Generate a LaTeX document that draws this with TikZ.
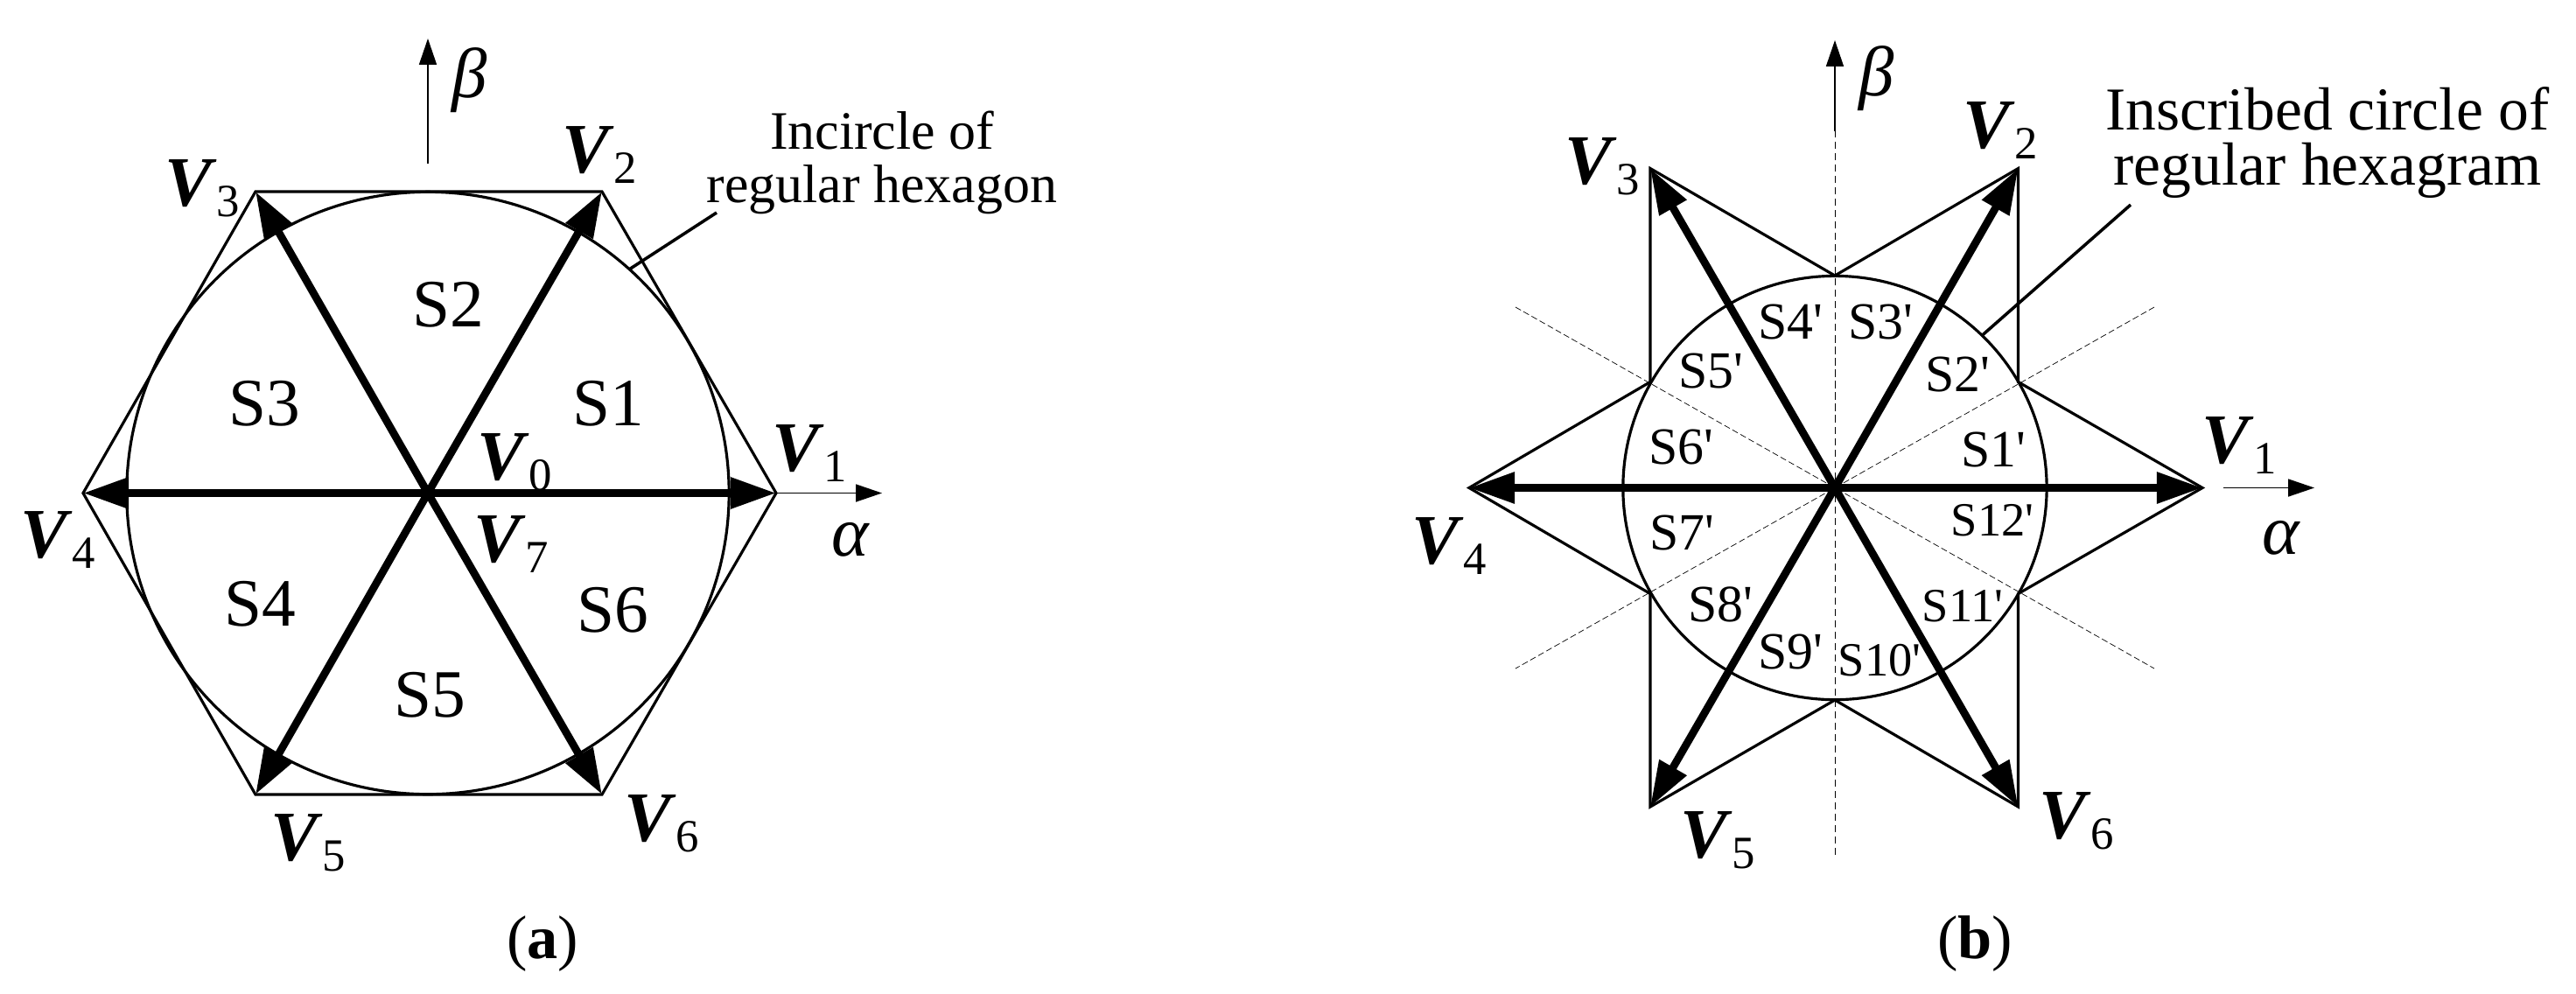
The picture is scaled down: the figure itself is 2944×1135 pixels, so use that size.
\documentclass[tikz,border=0pt]{standalone}
\usepackage{fontspec}
\setmainfont{Liberation Serif}
\usepackage{tikz}
\usetikzlibrary{arrows.meta, positioning}

\newcommand{\vecname}[1]{\textbf{\textit{V}}\raisebox{-3.3pt}{\fontsize{15}{15}\selectfont #1}}
\newcommand{\prm}{\textquotesingle}

\begin{document}
\begin{tikzpicture}[
    x=0.01cm,
    y=-0.01cm,
    vector/.style={inner sep=0pt, font=\fontsize{23}{23}\selectfont},
    axisname/.style={inner sep=0pt, font=\fontsize{23}{23}\selectfont\itshape},
    sector/.style={inner sep=0pt, font=\fontsize{22}{22}\selectfont},
    sectorb/.style={inner sep=0pt, font=\fontsize{17}{17}\selectfont},
    sectorc/.style={inner sep=0pt, font=\fontsize{15.5}{15.5}\selectfont},
    note/.style={inner sep=0pt, align=center, font=\fontsize{17.6}{17.4}\selectfont},
    noteb/.style={inner sep=0pt, align=center, font=\fontsize{19.8}{18}\selectfont},
    caption/.style={inner sep=0pt, font=\fontsize{20}{20}\selectfont},
    ring/.style={circle, draw, inner sep=0pt, outer sep=0pt, line width=0.9pt},
    outline/.style={line width=0.9pt, line join=miter},
    leader/.style={line width=1pt},
    arrow/.style={-{Triangle[length=14.8pt, width=9.7pt]}, line width=2.5pt},
    axis/.style={-{Triangle[length=8.5pt, width=5.7pt]}, line width=0.4pt},
    guide/.style={line width=0.22pt, dash pattern=on 2.3pt off 1.4pt},
    guidethin/.style={line width=0.2pt, dash pattern=on 2pt off 1pt}
]
\useasboundingbox (0,0) rectangle (2944,1135);

% Hexagon corners (a)
\coordinate (a0) at (489,563.5);
\coordinate (a1) at (887,563.5);
\coordinate (a2) at (688,219);
\coordinate (a3) at (292,219);
\coordinate (a4) at (95,563.5);
\coordinate (a5) at (292,908);
\coordinate (a6) at (688,908);
\coordinate (abeta) at (489,187);
\coordinate (abetatip) at (489,44);
\coordinate (aalphatip) at (1008,563.5);
\coordinate (anote) at (819,243);

% Incircle and hexagon
\node [ring, minimum size=6.88cm] (ringa) at (a0) {};
\draw [outline] (a1) -- (a2) -- (a3) -- (a4) -- (a5) -- (a6) -- cycle;

% Axes
\draw [axis] (abeta) -- (abetatip);
\draw [axis] (a1) -- (aalphatip);

% Voltage vectors
\draw [arrow] (a0) -- (a1);
\draw [arrow] (a0) -- (a2);
\draw [arrow] (a0) -- (a3);
\draw [arrow] (a0) -- (a4);
\draw [arrow] (a0) -- (a5);
\draw [arrow] (a0) -- (a6);
\draw [leader] (anote) -- (ringa.48);

% Vector labels
\node [vector] (va1) at (925,518) {\vecname{1}};
\node [vector] (va2) at (685,177) {\vecname{2}};
\node [vector] (va3) at (231,215) {\vecname{3}};
\node [vector] (va4) at (66,617) {\vecname{4}};
\node [vector] (va5) at (352,963) {\vecname{5}};
\node [vector] (va6) at (756,941) {\vecname{6}};
\node [vector] (va0) at (588,528) {\vecname{0}};
\node [vector] (va7) at (584,622) {\vecname{7}};
\node [axisname] (alphaa) at (972,617) {α};
\node [axisname] (betaa) at (537,92) {β};

% Sector labels
\node [sector] (s1) at (695,461) {S1};
\node [sector] (s2) at (512,348) {S2};
\node [sector] (s3) at (302,461) {S3};
\node [sector] (s4) at (297,690) {S4};
\node [sector] (s5) at (491,794) {S5};
\node [sector] (s6) at (700,697) {S6};

\node [note] (notea) at (1008,186) {Incircle of\\regular hexagon};
\node [caption] (capa) at (620,1079) {(\textbf{a})};

% Hexagram corners (b)
\coordinate (b0) at (2097,557.5);
\coordinate (b1) at (2517,557.5);
\coordinate (b2) at (2306.5,192.5);
\coordinate (b3) at (1886,192.5);
\coordinate (b4) at (1679,557.5);
\coordinate (b5) at (1886,922);
\coordinate (b6) at (2306.5,922);
\coordinate (c1) at (2306.5,436.5);
\coordinate (c2) at (2097,315);
\coordinate (c3) at (1886,436.5);
\coordinate (c4) at (1886,678.5);
\coordinate (c5) at (2097,800);
\coordinate (c6) at (2306.5,678.5);
\coordinate (bbottom) at (2097,977);
\coordinate (bbeta) at (2097,150);
\coordinate (bbetatip) at (2097,46);
\coordinate (balpha) at (2541,557.5);
\coordinate (balphatip) at (2645,557.5);
\coordinate (d1) at (2462,351);
\coordinate (d2) at (1732,764);
\coordinate (d3) at (1732,351);
\coordinate (d4) at (2462,764);
\coordinate (bnote) at (2435,234);

% Dashed guides
\draw [guidethin] (d1) -- (d2);
\draw [guidethin] (d3) -- (d4);
\draw [guide] (bbottom) -- (bbeta);
\draw [axis] (bbeta) -- (bbetatip);
\draw [axis] (balpha) -- (balphatip);

% Inscribed circle and hexagram
\node [ring, minimum size=4.84cm] (ringb) at (b0) {};
\draw [outline] (b1) -- (c1) -- (b2) -- (c2) -- (b3) -- (c3) -- (b4) -- (c4) -- (b5) -- (c5) -- (b6) -- (c6) -- cycle;

% Voltage vectors
\draw [arrow] (b0) -- (b1);
\draw [arrow] (b0) -- (b2);
\draw [arrow] (b0) -- (b3);
\draw [arrow] (b0) -- (b4);
\draw [arrow] (b0) -- (b5);
\draw [arrow] (b0) -- (b6);
\draw [leader] (bnote) -- (ringb.46);

% Vector labels
\node [vector] (vb1) at (2559,509) {\vecname{1}};
\node [vector] (vb2) at (2286,149) {\vecname{2}};
\node [vector] (vb3) at (1831,190) {\vecname{3}};
\node [vector] (vb4) at (1656,624) {\vecname{4}};
\node [vector] (vb5) at (1963,960) {\vecname{5}};
\node [vector] (vb6) at (2373,938) {\vecname{6}};
\node [axisname] (alphab) at (2607,615) {α};
\node [axisname] (betab) at (2145,90) {β};

% Sector labels
\node [sectorb] (t1) at (2278,514) {S1\prm};
\node [sectorb] (t2) at (2237,428) {S2\prm};
\node [sectorb] (t3) at (2149,368) {S3\prm};
\node [sectorb] (t4) at (2046,368) {S4\prm};
\node [sectorb] (t5) at (1955,424) {S5\prm};
\node [sectorb] (t6) at (1921,511) {S6\prm};
\node [sectorb] (t7) at (1922,609) {S7\prm};
\node [sectorb] (t8) at (1966,691) {S8\prm};
\node [sectorb] (t9) at (2046,745) {S9\prm};
\node [sectorc] (t10) at (2148,755) {S10\prm};
\node [sectorc] (t11) at (2243,693) {S11\prm};
\node [sectorc] (t12) at (2277,595) {S12\prm};

\node [noteb] (noteb) at (2660,163) {Inscribed circle of\\regular hexagram};
\node [caption] (capb) at (2257,1079) {(\textbf{b})};

\end{tikzpicture}
\end{document}
